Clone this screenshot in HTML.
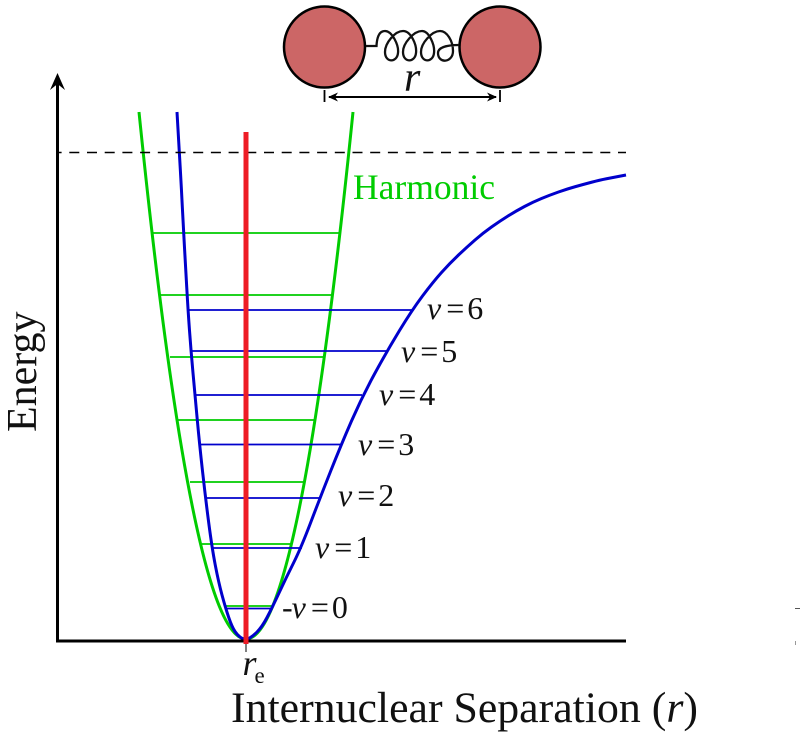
<!DOCTYPE html>
<html><head><meta charset="utf-8"><style>
html,body{margin:0;padding:0;background:#fff;width:800px;height:739px;overflow:hidden}
svg{display:block}
text{font-family:"Liberation Serif",serif;fill:#111}
</style></head><body>
<svg width="800" height="739" viewBox="0 0 800 739" xmlns="http://www.w3.org/2000/svg">
<path d="M152 233H340M160 295H332M170 357H323M178 420H314M190 482H303M202 544H291M225 606H272" fill="none" stroke="#00cc00" stroke-width="1.7"/>
<path d="M139 112Q246 1166 353 112" fill="none" stroke="#00cc00" stroke-width="3"/>
<path d="M188 310H412M191 351H387M195 395H362M199 444.500H342M205 498H320M212 548H302M226 608.500H272" fill="none" stroke="#0000cc" stroke-width="1.700"/>
<path fill="none" stroke="#0000cc" stroke-width="3" stroke-linejoin="round" d="M177 112Q179.300 152 180.400 171Q181.500 190 182.350 207.500Q183.200 225 184.350 245Q185.500 265 186.750 287.500Q188 310 189.500 330.500Q191 351 193 373Q195 395 197.250 419.500Q199.500 444 202.500 471Q205.500 498 208.750 523Q212 548 215.250 565Q218.500 582 222 595Q225.500 608 228.750 617.500Q232 627 235 631.500Q238 636 241.500 638Q245 640 248.500 638.500Q252 637 257 632Q262 627 267 617.500Q272 608 279 593Q286 578 293.500 563Q301 548 310.500 523Q320 498 330.500 471.500Q341 445 351.500 421Q362 397 374.500 374Q387 351 399.500 330.500Q412 310 422.500 296Q433 282 441.500 272.500Q450 263 458.500 255Q467 247 475 240Q483 233 491.500 227Q500 221 508 216Q516 211 524.500 206.500Q533 202 541.500 198.500Q550 195 558.500 192Q567 189 575 186.750Q583 184.500 591.500 182.250Q600 180 606.500 178.750Q613 177.500 626 175"/>
<path d="M57 641H626" stroke="#000" stroke-width="3" fill="none"/>
<path d="M57.500 642.500V78" stroke="#000" stroke-width="3" fill="none"/>
<path d="M57.500 73L65 90L57.500 84L50 90Z" fill="#000"/>
<path d="M58 152.500H626" stroke="#000" stroke-width="1.500" stroke-dasharray="10 7.700" stroke-dashoffset="6.400" fill="none"/>
<path d="M246 641V652" stroke="#000" stroke-width="1" fill="none"/>
<path d="M246 132V644" stroke="#ee1c25" stroke-width="5" fill="none"/>
<circle cx="324.500" cy="47" r="40.500" fill="#cc6666" stroke="#000" stroke-width="2.500"/>
<circle cx="500" cy="47" r="40.500" fill="#cc6666" stroke="#000" stroke-width="2.500"/>
<path d="M366 46H376.500C377 36 380 31 385 31C392 31 399 45 398 53C397 63 385 63 385 52C385 43 395 31 403 31C411 31 417 45 416 53C415 63 403 63 403 52C403 43 414 31 422 31C429 31 435 45 434 53C433 63 421 63 421 52C421 43 432 31 440 31C447 31 453 41 453 51C453 63 438 64 438 53C438 47 448 45 459 45" fill="none" stroke="#111" stroke-width="2.300"/>
<path d="M324.500 90V102M500 90V102" stroke="#000" stroke-width="1.800" fill="none"/>
<path d="M329 97H496" stroke="#000" stroke-width="2" fill="none"/>
<path d="M328 97L338 92.500L335 97L338 101.500ZM497 97L487 92.500L490 97L487 101.500Z" fill="#000"/>
<text x="404" y="91" font-size="42" font-style="italic">r</text>
<text x="353" y="199" font-size="35.500" style="fill:#00cc00">Harmonic</text>
<text x="427" y="319" font-size="32"><tspan font-style="italic">v</tspan><tspan dx="5">=</tspan><tspan dx="3">6</tspan></text>
<text x="401" y="362" font-size="32"><tspan font-style="italic">v</tspan><tspan dx="5">=</tspan><tspan dx="3">5</tspan></text>
<text x="379" y="405" font-size="32"><tspan font-style="italic">v</tspan><tspan dx="5">=</tspan><tspan dx="3">4</tspan></text>
<text x="358" y="455" font-size="32"><tspan font-style="italic">v</tspan><tspan dx="5">=</tspan><tspan dx="3">3</tspan></text>
<text x="338" y="506" font-size="32"><tspan font-style="italic">v</tspan><tspan dx="5">=</tspan><tspan dx="3">2</tspan></text>
<text x="315" y="558" font-size="32"><tspan font-style="italic">v</tspan><tspan dx="5">=</tspan><tspan dx="3">1</tspan></text>
<text x="282" y="618" font-size="32">-<tspan font-style="italic" dx="-1">v</tspan><tspan dx="5">=</tspan><tspan dx="3">0</tspan></text>
<text x="242.500" y="675" font-size="36" font-style="italic">r</text>
<text x="254.500" y="683" font-size="23">e</text>
<text x="231" y="722" font-size="43.800">Internuclear Separation (<tspan font-style="italic">r</tspan>)</text>
<text transform="translate(36 432) rotate(-90)" font-size="42">Energy</text>
<rect x="795" y="608" width="5" height="1" fill="#555"/>
<rect x="795" y="641" width="1" height="4" fill="#999"/>
</svg>
</body></html>
